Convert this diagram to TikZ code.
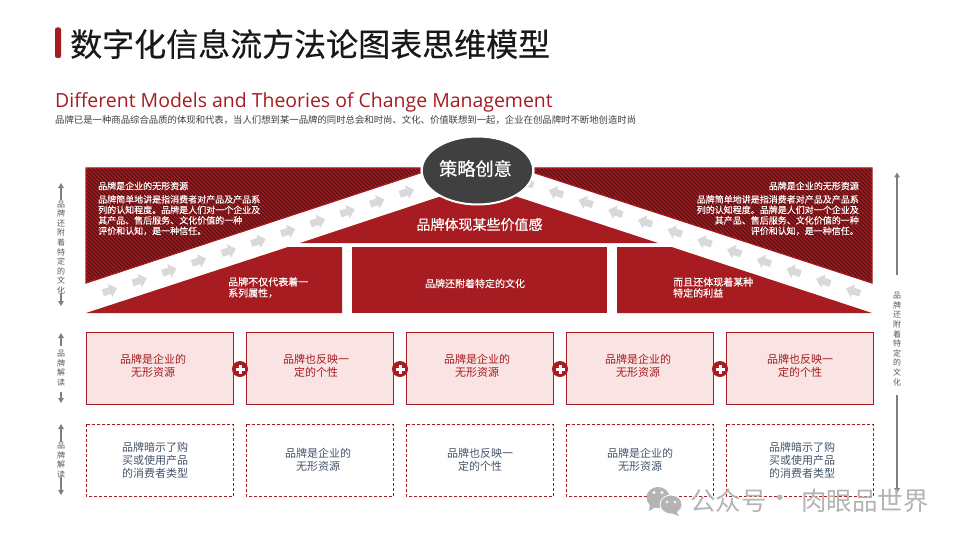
\documentclass[tikz,border=0pt]{standalone}
\usepackage{fontspec}
\setmainfont{Noto Sans CJK SC}
\newfontfamily\latinfont{Open Sans}
\newfontfamily\medfont[FakeBold=0.35]{Noto Sans CJK SC}
\newfontfamily\lightbold[FakeBold=0.15]{Noto Sans CJK SC}
\usetikzlibrary{arrows.meta,shapes.geometric}
\definecolor{brand}{HTML}{A61C20}
\definecolor{hatchdark}{HTML}{521214}
\definecolor{pinkfill}{HTML}{FAE3E3}
\definecolor{slate}{HTML}{44546A}
\definecolor{chevgrey}{HTML}{D9D9D9}
\definecolor{axisgrey}{HTML}{7F7F7F}
\definecolor{labelgrey}{HTML}{595959}
\definecolor{ovalgrey}{HTML}{404040}
\definecolor{wmgrey}{HTML}{B4B4B4}
\tikzset{
  x=1pt,y=-1pt,
  redlabel/.style={inner sep=0pt,align=center,text=brand,font=\fontsize{11}{13}\selectfont},
  slatelabel/.style={inner sep=0pt,align=center,text=slate,font=\fontsize{11}{13}\selectfont},
  hatchtext/.style={inner sep=0pt,text=white,font=\lightbold\fontsize{9}{10.5}\selectfont},
  bodytext/.style={inner sep=0pt,text=white,font=\lightbold\fontsize{10}{11}\selectfont},
  vlabel/.style={inner sep=0pt,align=center,text=labelgrey,font=\fontsize{8}{9.6}\selectfont},
  solidbox/.style={draw=brand,fill=pinkfill,line width=0.9pt},
  dashbox/.style={draw=brand,line width=0.8pt,dash pattern=on 3pt off 2pt},
  axis/.style={draw=axisgrey,line width=1.5pt,-{Triangle[length=5pt,width=5.5pt]}},
  plusdot/.style={circle,fill=brand,draw=none,minimum size=16pt,inner sep=0pt},
}
\newcommand\chev[3]{\begin{scope}[shift={(#1,#2)},rotate=#3]
  \fill[chevgrey] (-7.5,-3.5)--(0,-3.5)--(0,-7)--(7.5,0)--(0,7)--(0,3.5)--(-7.5,3.5)--cycle;
\end{scope}}
\newcommand\hatchfill[1]{\begin{scope}
  \fill[brand] #1;
  \clip #1;
  \foreach \k in {-60,-56,...,880}{\draw[hatchdark,line width=1.25pt] (\k,168)--(\k+150,318);}
\end{scope}
\draw[brand,line width=1.2pt] #1;}
\begin{document}
\begin{tikzpicture}
\useasboundingbox (0,0) rectangle (960,540);
\fill[white] (0,0) rectangle (960,540);
% title
\fill[brand,rounded corners=2pt] (55,27.5) rectangle (61,58);
\node[anchor=west,inner sep=0pt,text=black!90] (title) at (70,44) {\medfont\fontsize{32}{32}\selectfont 数字化信息流方法论图表思维模型};
\node[anchor=west,inner sep=0pt,text=brand] (sub) at (55,102.5) {\latinfont\fontsize{19.45}{20}\selectfont Different Models and Theories of Change Management};
\node[anchor=west,inner sep=0pt,text=black!75] (desc) at (55,120) {\fontsize{9.37}{10}\selectfont 品牌已是一种商品综合品质的体现和代表，当人们想到某一品牌的同时总会和时尚、文化、价值联想到一起，企业在创品牌时不断地创造时尚};
% hatched triangles
\hatchfill{(86,168)--(420,168)--(420,173)--(86,283)--cycle}
\hatchfill{(535,168)--(872,168)--(872,283)--(535,173)--cycle}
% solid shapes
\fill[brand] (86,313)--(288,247)--(342,247)--(342,313)--cycle;
\fill[brand] (352,247) rectangle (607,313);
\fill[brand] (617,247)--(671.5,247)--(872,313)--(617,313)--cycle;
\fill[brand] (300,243)--(478,184)--(658,243)--cycle;
% chevrons
\foreach \i in {0,...,10}{\chev{110+29.7*\i}{290.5-9.85*\i}{18}}
\foreach \i in {0,...,11}{\chev{853-29.7*\i}{291-9.85*\i}{162}}
% oval
\node[ellipse,fill=ovalgrey,draw=white,line width=2pt,minimum width=111.5pt,minimum height=68pt,inner sep=0pt] (oval) at (477.5,170.5) {};
\node[inner sep=0pt,text=white] (ovaltext) at (475.5,168.5) {\medfont\fontsize{18.2}{18}\selectfont 策略创意};
\node[inner sep=0pt,text=white] (roof) at (479.5,224.5) {\medfont\fontsize{14}{14}\selectfont 品牌体现某些价值感};
% hatched text
\node[hatchtext,anchor=west] (lh) at (98,186) {品牌是企业的无形资源};
\node[hatchtext,anchor=north west,align=left] (lb) at (98,195) {品牌简单地讲是指消费者对产品及产品系\\列的认知程度。品牌是人们对一个企业及\\其产品、售后服务、文化价值的一种\\评价和认知，是一种信任。};
\node[hatchtext,anchor=east] (rh) at (859,186) {品牌是企业的无形资源};
\node[hatchtext,anchor=north east,align=right] (rb) at (859,195) {品牌简单地讲是指消费者对产品及产品系\\列的认知程度。品牌是人们对一个企业及\\其产品、售后服务、文化价值的一种\\评价和认知，是一种信任。};
% body text
\node[bodytext,anchor=west,align=left] (b1) at (228,287.5) {品牌不仅代表着一\\系列属性，};
\node[bodytext] (b2) at (475,283.5) {品牌还附着特定的文化};
\node[bodytext,anchor=west,align=left] (b3) at (673,287.5) {而且还体现着某种\\特定的利益};
% row 2
\foreach \n/\x in {1/86,2/246,3/406,4/566,5/726}{
  \draw[solidbox] (\x,332.5) rectangle (\x+147.7,404.5);
  \draw[dashbox] (\x,424.3) rectangle (\x+147.7,496.3);
}
\node[redlabel] (r1) at (153,366) {品牌是企业的\\无形资源};
\node[redlabel] (r2) at (316,366) {品牌也反映一\\定的个性};
\node[redlabel] (r3) at (477,366) {品牌是企业的\\无形资源};
\node[redlabel] (r4) at (638,366) {品牌是企业的\\无形资源};
\node[redlabel] (r5) at (800,366) {品牌也反映一\\定的个性};
\foreach \n/\x in {1/240,2/400,3/560,4/720}{
  \node[plusdot] (p\n) at (\x,369) {};
  \fill[white] (\x-4.5,369-1.5) rectangle (\x+4.5,369+1.5);
  \fill[white] (\x-1.5,369-4.5) rectangle (\x+1.5,369+4.5);
}
% row 3
\node[slatelabel] (s1) at (155,460) {品牌暗示了购\\买或使用产品\\的消费者类型};
\node[slatelabel] (s2) at (318,459.5) {品牌是企业的\\无形资源};
\node[slatelabel] (s3) at (480,459.5) {品牌也反映一\\定的个性};
\node[slatelabel] (s4) at (640,459.5) {品牌是企业的\\无形资源};
\node[slatelabel] (s5) at (802,460) {品牌暗示了购\\买或使用产品\\的消费者类型};
% axes
\node[vlabel] (v1) at (61,247.5) {品\\牌\\还\\附\\着\\特\\定\\的\\文\\化};
\node[vlabel] (v2) at (61,368) {品\\牌\\解\\读};
\node[vlabel] (v3) at (61,460) {品\\牌\\解\\读};
\node[vlabel] (v4) at (897,339) {品\\牌\\还\\附\\着\\特\\定\\的\\文\\化};
\coordinate (a1t) at (61,183); \coordinate (a1b) at (61,306);
\coordinate (a2t) at (61,333); \coordinate (a2b) at (61,403);
\coordinate (a3t) at (61,424); \coordinate (a3b) at (61,495);
\coordinate (a4t) at (897,172.5); \coordinate (a4b) at (897,493);
\draw[axis] (61,200) -- (a1t);
\draw[axis] (61,293) -- (a1b);
\draw[axis] (61,346) -- (a2t);
\draw[axis] (61,392) -- (a2b);
\draw[axis] (61,442) -- (a3t);
\draw[axis] (61,477) -- (a3b);
\draw[axis] (897,275) -- (a4t);
\draw[axis] (897,395) -- (a4b);
% watermark
\fill[wmgrey] (658,497.5) ellipse (11.5 and 10.5);
\fill[wmgrey] (650,504)--(649,511)--(656,507)--cycle;
\fill[white] (654,492.5) circle (1.6); \fill[white] (662,492.5) circle (1.6);
\fill[wmgrey,draw=white,line width=.8pt] (671,504.5) ellipse (11 and 9.5);
\fill[wmgrey] (676,511)--(679,516)--(671,513)--cycle;
\fill[white] (667,502) circle (1.4); \fill[white] (675,502) circle (1.4);
\node[anchor=west,inner sep=0pt,text=wmgrey] (wm1) at (690,501) {\fontsize{25.5}{26}\selectfont 公众号};
\node[inner sep=0pt,text=wmgrey] (wm2) at (780,501) {\fontsize{25.5}{26}\selectfont ·};
\node[anchor=east,inner sep=0pt,text=wmgrey] (wm3) at (929,501) {\fontsize{25.5}{26}\selectfont 肉眼品世界};
\end{tikzpicture}
\end{document}
